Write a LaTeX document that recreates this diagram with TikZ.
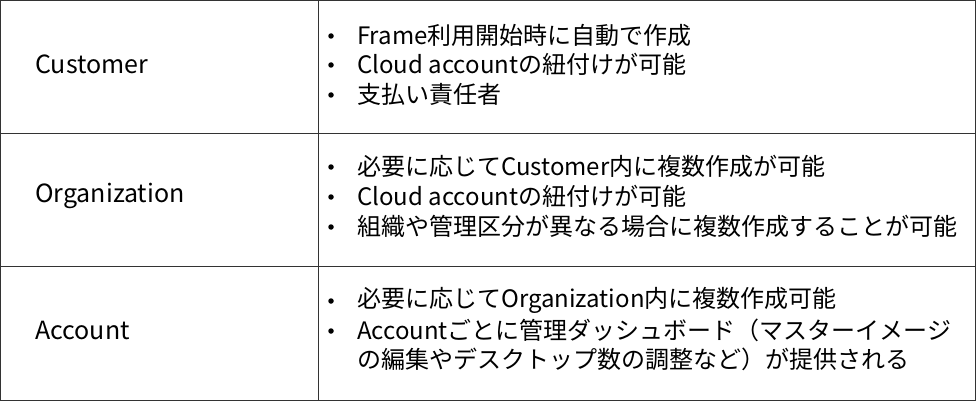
\documentclass[tikz,border=0pt]{standalone}
\usepackage{fontspec}
\setmainfont{Noto Sans CJK JP}
\begin{document}
\begin{tikzpicture}[x=1pt,y=-1pt,
  grid/.style={draw=black!80,line width=0.8pt},
  head/.style={anchor=west,inner sep=0pt,font=\fontsize{25}{28}\selectfont},
  item/.style={anchor=west,inner sep=0pt,font=\fontsize{24}{28}\selectfont},
  dot/.style={circle,fill=black,inner sep=0pt,minimum size=5.5pt}]
\useasboundingbox (0,0) rectangle (976,401);
% table frame
\draw[grid] (0.5,0.5) rectangle (975.5,400.5);
\draw[grid] (0,133) -- (976,133);
\draw[grid] (0,266) -- (976,266);
\draw[grid] (318,0) -- (318,401);
% left column
\node[head] (cust) at (35,64) {Customer};
\node[head] (org) at (35,196) {Organization};
\node[head] (acc) at (35,330) {Account};
% right column
\foreach \y/\t in {35/Frame利用開始時に自動で作成, 64/Cloud accountの紐付けが可能, 94/支払い責任者,
  166/必要に応じてCustomer内に複数作成が可能, 196/Cloud accountの紐付けが可能,
  226/組織や管理区分が異なる場合に複数作成することが可能,
  300/必要に応じてOrganization内に複数作成可能, 330/Accountごとに管理ダッシュボード（マスターイメージ}{
  \node[dot] at (331,\y+1) {};
  \node[item] at (357,\y) {\t};
}
\node[item] (cont) at (357,359) {の編集やデスクトップ数の調整など）が提供される};
\end{tikzpicture}
\end{document}
